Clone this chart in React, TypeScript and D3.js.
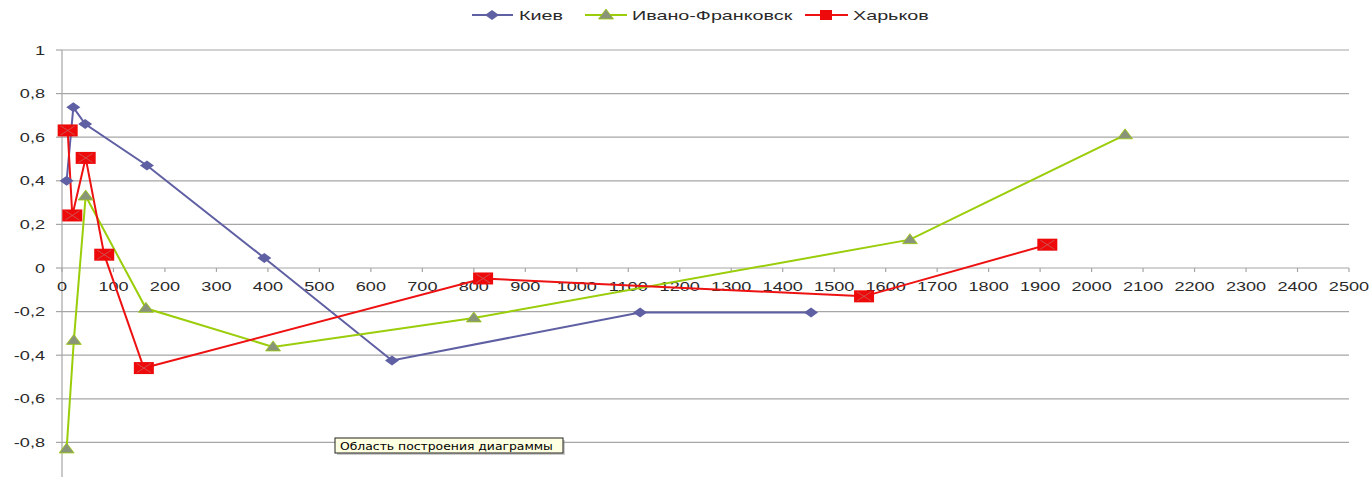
import * as d3 from 'd3'

// values
const kievX = [9, 22, 45, 165, 393, 641, 1123, 1455]
const kievY = [0.4, 0.737, 0.66, 0.47, 0.046, -0.424, -0.204, -0.204]

const ivanoX = [9, 23, 46, 163, 410, 800, 1647, 2065]
const ivanoY = [-0.83, -0.332, 0.33, -0.185, -0.362, -0.229, 0.13, 0.611]

const kharkovX = [11, 20, 46, 82, 159, 818, 1558, 1914]
const kharkovY = [0.631, 0.241, 0.505, 0.061, -0.459, -0.048, -0.13, 0.107]

const seriesNames = ['Киев', 'Ивано-Франковск', 'Харьков']
const xTicks = d3.range(0, 2501, 100)
const yTicks = [1, 0.8, 0.6, 0.4, 0.2, 0, -0.2, -0.4, -0.6, -0.8]
const tooltipText = 'Область построения диаграммы'

const W = 1370
const H = 477
const SX = 1.45 // the original picture is stretched sideways

const kievColor = '#5f5fa3'
const ivanoColor = '#9acd0a'
const ivanoMarker = '#8a9478'
const kharkovColor = '#ee1111'
const gridColor = '#a6a6a6'
const textColor = '#2a2a2a'

const x = d3.scaleLinear().domain([0, 2500]).range([62, 1349])
const y = d3.scaleLinear().domain([-1, 1]).range([486, 50])

type Pt = [number, number]
const zip = (xs: number[], ys: number[]): Pt[] => xs.map((v, i) => [v, ys[i]])

const line = d3
    .line<Pt>()
    .x((d) => x(d[0]))
    .y((d) => y(d[1]))

const fmt = (v: number) => String(Math.round(v * 10) / 10).replace('.', ',')

function Diamond({ cx, cy }: { cx: number; cy: number }) {
    return (
        <polygon
            points={`${cx - 7},${cy} ${cx},${cy - 5} ${cx + 7},${cy} ${cx},${cy + 5}`}
            fill={kievColor}
        />
    )
}

function Triangle({ cx, cy }: { cx: number; cy: number }) {
    return (
        <polygon
            points={`${cx - 7.5},${cy + 4} ${cx},${cy - 6} ${cx + 7.5},${cy + 4}`}
            fill={ivanoMarker}
            stroke={ivanoColor}
            strokeWidth={0.8}
        />
    )
}

function Square({ cx, cy }: { cx: number; cy: number }) {
    return (
        <g>
            <rect x={cx - 10} y={cy - 6} width={20} height={12} fill="#ee0a0a" />
            <path
                d={`M${cx - 7},${cy - 4.5}L${cx + 7},${cy + 4.5}M${cx - 7},${cy + 4.5}L${cx + 7},${cy - 4.5}`}
                stroke="#c86060"
                strokeWidth={0.8}
            />
        </g>
    )
}

function SText(props: {
    x: number
    y: number
    anchor?: string
    size?: number
    sx?: number
    children: string
    fill?: string
    family?: string
}) {
    return (
        <text
            transform={`translate(${props.x},${props.y}) scale(${props.sx || SX},1)`}
            textAnchor={props.anchor || 'start'}
            fontSize={props.size || 12.5}
            fontFamily={props.family || 'Liberation Sans, Arial, sans-serif'}
            fill={props.fill || textColor}
        >
            {props.children}
        </text>
    )
}

export default function App() {
    const kiev = zip(kievX, kievY)
    const ivano = zip(ivanoX, ivanoY)
    const kharkov = zip(kharkovX, kharkovY)

    return (
        <svg width={W} height={H} style={{ position: 'absolute', left: 0, top: 0, background: '#fff' }}>
            {/* grid */}
            {yTicks.map((t) => (
                <line key={'g' + t} x1={x(0)} x2={x(2500)} y1={y(t)} y2={y(t)} stroke={gridColor} strokeWidth={1.2} />
            ))}
            {/* y axis */}
            <line x1={x(0)} x2={x(0)} y1={y(1)} y2={H} stroke={gridColor} strokeWidth={1.2} />
            {yTicks.map((t) => (
                <g key={'yt' + t}>
                    <line x1={x(0) - 6} x2={x(0)} y1={y(t)} y2={y(t)} stroke={gridColor} strokeWidth={1.2} />
                    <SText x={45} y={y(t) + 4.5} anchor="end">
                        {fmt(t)}
                    </SText>
                </g>
            ))}
            {/* x axis */}
            {xTicks.map((t) => (
                <g key={'xt' + t}>
                    <line x1={x(t)} x2={x(t)} y1={y(0)} y2={y(0) + 4} stroke={gridColor} strokeWidth={1.2} />
                    <SText x={x(t)} y={y(0) + 23} anchor="middle">
                        {String(t)}
                    </SText>
                </g>
            ))}

            {/* series */}
            <path d={line(kiev) || ''} fill="none" stroke={kievColor} strokeWidth={2} />
            <path d={line(ivano) || ''} fill="none" stroke={ivanoColor} strokeWidth={2} />
            <path d={line(kharkov) || ''} fill="none" stroke={kharkovColor} strokeWidth={2} />
            {kiev.map((d, i) => (
                <Diamond key={'k' + i} cx={x(d[0])} cy={y(d[1])} />
            ))}
            {ivano.map((d, i) => (
                <Triangle key={'i' + i} cx={x(d[0])} cy={y(d[1])} />
            ))}
            {kharkov.map((d, i) => (
                <Square key={'h' + i} cx={x(d[0])} cy={y(d[1])} />
            ))}

            {/* legend */}
            <g>
                <line x1={472} x2={513} y1={15} y2={15} stroke={kievColor} strokeWidth={2} />
                <Diamond cx={492} cy={15} />
                <SText x={519} y={19.5} size={12.5} sx={1.58}>
                    {seriesNames[0]}
                </SText>
                <line x1={585} x2={627} y1={15} y2={15} stroke={ivanoColor} strokeWidth={2} />
                <Triangle cx={606} cy={15} />
                <SText x={632} y={19.5} size={12.5} sx={1.58}>
                    {seriesNames[1]}
                </SText>
                <line x1={805} x2={848} y1={15} y2={15} stroke={kharkovColor} strokeWidth={2} />
                <rect x={820} y={10} width={12} height={10} fill="#ee0a0a" />
                <SText x={853} y={19.5} size={12.5} sx={1.58}>
                    {seriesNames[2]}
                </SText>
            </g>

            {/* tooltip */}
            <rect x={337} y={440} width={228} height={15} fill="#999" opacity={0.5} />
            <rect x={335} y={438} width={228} height={15} fill="#ffffe1" stroke="#222" strokeWidth={1} />
            <SText x={340} y={450} size={10.5} sx={1.18} fill="#000" family="DejaVu Sans, sans-serif">
                {tooltipText}
            </SText>
        </svg>
    )
}
